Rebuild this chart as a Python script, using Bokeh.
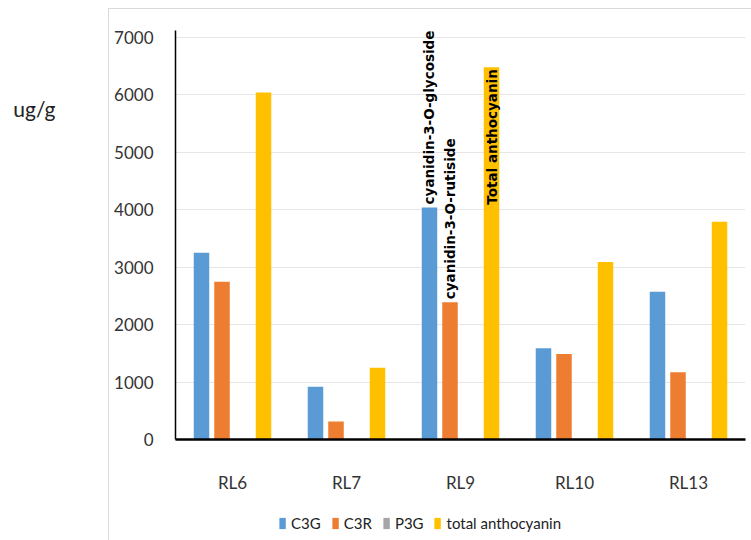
from bokeh.plotting import figure
from bokeh.layouts import column
from bokeh.models import (FactorRange, Range1d, ColumnDataSource, FixedTicker, Legend,
                          LegendItem, LinearAxis, InlineStyleSheet)
from bokeh.transform import dodge
from bokeh.core.properties import value
from bokeh.embed import file_html
from bokeh.resources import INLINE
import math

categories = ["RL6", "RL7", "RL9", "RL10", "RL13"]
c3g = [3250, 920, 4040, 1590, 2570]
c3r = [2745, 315, 2390, 1490, 1170]
p3g = [0, 0, 0, 0, 0]
total = [6040, 1250, 6480, 3090, 3790]
series_names = ["C3G", "C3R", "P3G", "total anthocyanin"]
y_ticks = [0, 1000, 2000, 3000, 4000, 5000, 6000, 7000]
unit_label = "ug/g"
unit_label_level = 5760
annot_cat = ["RL9", "RL9", "RL9"]
annot_text = ["cyanidin-3-O-glycoside", "cyanidin-3-O-rutiside", "Total anthocyanin"]

colors = ["#5B9BD5", "#ED7D31", "#A5A5A5", "#FFC000"]
offsets = [-0.272, -0.092, 0.092, 0.272]
FONT = "Lato"
AFONT = "DejaVu Sans"

src = ColumnDataSource(dict(cat=categories, C3G=c3g, C3R=c3r, P3G=p3g, TOT=total))

p = figure(width=751, height=505, x_range=FactorRange(*categories), y_range=Range1d(0, 7120),
           output_backend="svg", toolbar_location=None,
           min_border_left=175, min_border_right=6, min_border_top=30, min_border_bottom=66)
p.outline_line_color = None
p.background_fill_color = "white"
p.border_fill_color = "white"

for col, off, colr in zip(["C3G", "C3R", "P3G", "TOT"], offsets, colors):
    p.vbar(x=dodge("cat", off, range=p.x_range), top=col, width=0.136, source=src,
           fill_color=colr, line_color=None)

# axes
p.xgrid.grid_line_color = None
p.ygrid.grid_line_color = "#e6e6e6"
p.ygrid.grid_line_width = 1
p.yaxis.ticker = FixedTicker(ticks=y_ticks)
for ax in (p.xaxis[0], p.yaxis[0]):
    ax.major_tick_line_color = None
    ax.minor_tick_line_color = None
    ax.axis_line_color = "black"
    ax.major_label_text_font = FONT
    ax.major_label_text_font_size = "17px"
    ax.major_label_text_color = "#333333"
p.yaxis.axis_line_width = 1.5
p.yaxis.major_label_standoff = 16
p.xaxis.axis_line_width = 2.5
p.xaxis.major_label_standoff = 26

# unit label as an extra left axis with a single labelled tick
unit_axis = LinearAxis(ticker=FixedTicker(ticks=[unit_label_level]),
                       major_label_overrides={unit_label_level: unit_label},
                       axis_line_color=None, major_tick_line_color=None, minor_tick_line_color=None,
                       major_label_standoff=50, major_label_text_font=FONT,
                       major_label_text_font_size="21px", major_label_text_color="#222222")
p.add_layout(unit_axis, "left")

# annotation texts on RL9
annot_off = [offsets[0], offsets[1], offsets[3]]
annot_y = [c3g[2], c3r[2], total[2]]
aligns = ["left", "left", "right"]
yoffs = [-3, -3, 2]
for i in range(3):
    p.text(x=dodge("cat", annot_off[i], range=p.x_range), y="y", text="t",
           source=ColumnDataSource(dict(cat=[annot_cat[i]], y=[annot_y[i]], t=[annot_text[i]])),
           angle=math.pi / 2, text_align=aligns[i], text_baseline="middle", y_offset=yoffs[i],
           text_font=value(AFONT), text_font_style="bold", text_font_size="13.5px",
           text_color="black")

p.stylesheets = [InlineStyleSheet(css=":host::after{content:'';position:absolute;left:108px;top:8px;width:643px;height:497px;border-left:1px solid #d9d9d9;border-top:1px solid #d9d9d9;pointer-events:none;box-sizing:border-box;}")]

# legend strip below the chart (proxy renderers carry only the series styles)
pl = figure(width=751, height=35, x_range=Range1d(0, 1), y_range=Range1d(0, 1),
            output_backend="svg", toolbar_location=None, x_axis_type=None, y_axis_type=None,
            min_border_left=0, min_border_right=0, min_border_top=0, min_border_bottom=0)
pl.outline_line_color = None
pl.xgrid.grid_line_color = None
pl.ygrid.grid_line_color = None
leg_renderers = []
for colr in colors:
    leg_renderers.append(pl.vbar(x=[0.5], top=[float("nan")], width=0.1,
                                 fill_color=colr, line_color=None))
legend = Legend(items=[LegendItem(label=n, renderers=[r]) for n, r in zip(series_names, leg_renderers)],
                orientation="horizontal", location="right",
                glyph_width=8, glyph_height=14, label_standoff=5, spacing=10,
                padding=0, margin=184, border_line_color=None, background_fill_alpha=0,
                label_text_font=FONT, label_text_font_size="15px", label_text_color="#222222")
pl.add_layout(legend, "center")
pl.stylesheets = [InlineStyleSheet(css=":host::after{content:'';position:absolute;left:108px;top:0px;width:1px;height:35px;border-left:1px solid #d9d9d9;pointer-events:none;}")]

layout = column(p, pl, spacing=0)
open("out.html", "w").write(file_html(layout, INLINE))
